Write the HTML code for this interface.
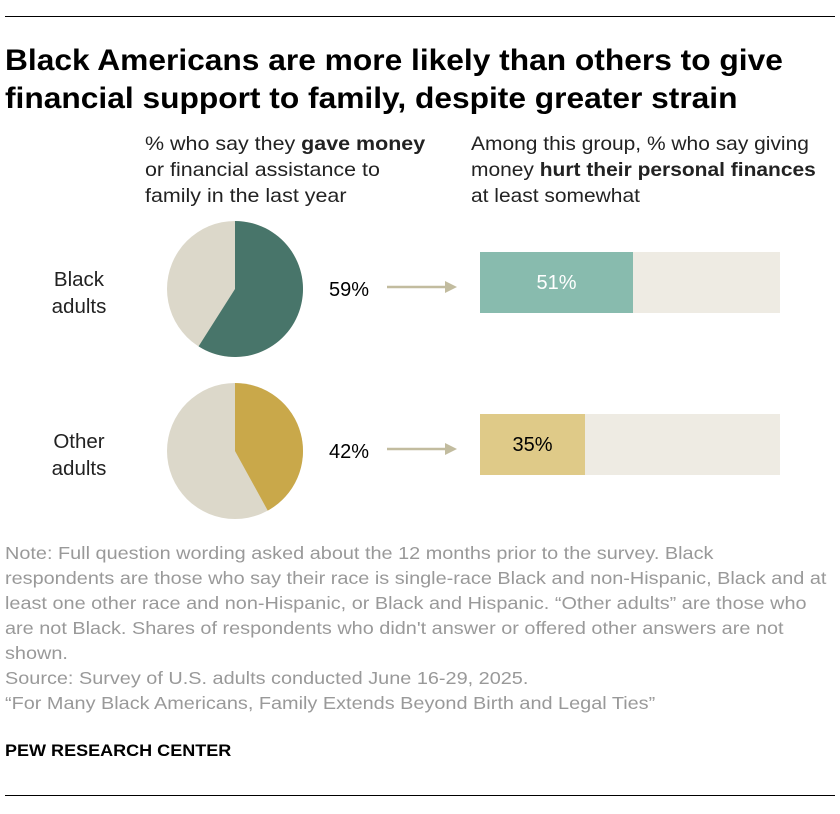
<!DOCTYPE html>
<html><head><meta charset="utf-8"><style>
body{margin:0;background:#fff;font-family:"Liberation Sans",sans-serif;}
#root{position:relative;width:840px;height:814px;overflow:hidden;}
.t{position:absolute;white-space:nowrap;color:#000;transform-origin:0 0;}
.rule{position:absolute;left:5px;width:830px;height:1px;background:#000;}
.note{position:absolute;left:5px;color:#999;font-size:17.5px;line-height:25px;white-space:nowrap;transform-origin:0 0;transform:scaleX(1.135);}
</style></head><body><div id="root">
<div class="rule" style="top:16px"></div>
<div class="t" style="left:5px;top:42px;font-size:29.5px;font-weight:bold;line-height:38px;transform:scaleX(1.075)">Black Americans are more likely than others to give<br>financial support to family, despite greater strain</div>
<div class="t" style="left:145px;top:131px;font-size:19.5px;line-height:26px;color:#222;transform:scaleX(1.1)">% who say they <b>gave money</b><br>or financial assistance to<br>family in the last year</div>
<div class="t" style="left:471px;top:131px;font-size:19.5px;line-height:26px;color:#222;transform:scaleX(1.075)">Among this group, % who say giving<br>money <b>hurt their personal finances</b><br>at least somewhat</div>
<svg id="svg" width="840" height="814" style="position:absolute;left:0;top:0"></svg>
<div class="note" style="top:541px">Note: Full question wording asked about the 12 months prior to the survey. Black<br>respondents are those who say their race is single-race Black and non-Hispanic, Black and at<br>least one other race and non-Hispanic, or Black and Hispanic. “Other adults” are those who<br>are not Black. Shares of respondents who didn't answer or offered other answers are not<br>shown.</div>
<div class="note" style="top:666px">Source: Survey of U.S. adults conducted June 16-29, 2025.<br>“For Many Black Americans, Family Extends Beyond Birth and Legal Ties”</div>
<div class="t" style="left:5px;top:741px;font-size:17px;font-weight:bold;transform:scaleX(1.06)">PEW RESEARCH CENTER</div>
<div class="rule" style="top:795px"></div>
</div>
<script>
const groups=["Black\nadults","Other\nadults"];
const gaveMoney=[59,42];
const hurtFinances=[51,35];
const pieColors=["#48756a","#c9a84a"];
const barColors=["#88bbae","#dfca88"];
const NS="http://www.w3.org/2000/svg";
const svg=document.getElementById('svg');
function mk(tag,attrs){const e=document.createElementNS(NS,tag);for(const k in attrs)e.setAttribute(k,attrs[k]);svg.appendChild(e);return e;}
const rowY=i=>289+i*162;
const barX=v=>480+v*3;
groups.forEach((g,i)=>{
  const cy=rowY(i),cx=235,r=68;
  const c=mk('circle',{cx:cx,cy:cy,r:r,fill:'#dcd8ca'});
  
  
  const a=gaveMoney[i]/100*2*Math.PI;
  const x2=cx+r*Math.sin(a),y2=cy-r*Math.cos(a);
  const p=mk('path',{d:`M${cx},${cy} L${cx},${cy-r} A${r},${r} 0 ${a>Math.PI?1:0} 1 ${x2},${y2} Z`,fill:pieColors[i]});
  
  
  const lines=g.split('\n');
  lines.forEach((l,j)=>{const t=mk('text',{x:79,y:cy-3+j*27,'text-anchor':'middle','font-size':20.5,fill:'#222','font-family':'Liberation Sans'});t.textContent=l;
    
    });
  const pt=mk('text',{x:349,y:cy+7,'text-anchor':'middle','font-size':20,fill:'#000','font-family':'Liberation Sans'});pt.textContent=gaveMoney[i]+'%';
  
  
  const ln=mk('line',{x1:387,y1:cy-2,x2:448,y2:cy-2,stroke:'#c2bc9f','stroke-width':2.5});
  
  
  const ah=mk('path',{d:`M445,${cy-8} L457,${cy-2} L445,${cy+4} Z`,fill:'#c2bc9f'});
  
  
  const by=cy-37;
  const bg=mk('rect',{x:barX(0),y:by,width:barX(100)-barX(0),height:61,fill:'#eeebe3'});
  
  
  const b=mk('rect',{x:barX(0),y:by,width:barX(hurtFinances[i])-barX(0),height:61,fill:barColors[i]});
  
  
  const bt=mk('text',{x:(barX(0)+barX(hurtFinances[i]))/2,y:by+37,'text-anchor':'middle','font-size':20,fill:i===0?'#fff':'#000','font-family':'Liberation Sans'});bt.textContent=hurtFinances[i]+'%';
  
  
});
</script></body></html>
